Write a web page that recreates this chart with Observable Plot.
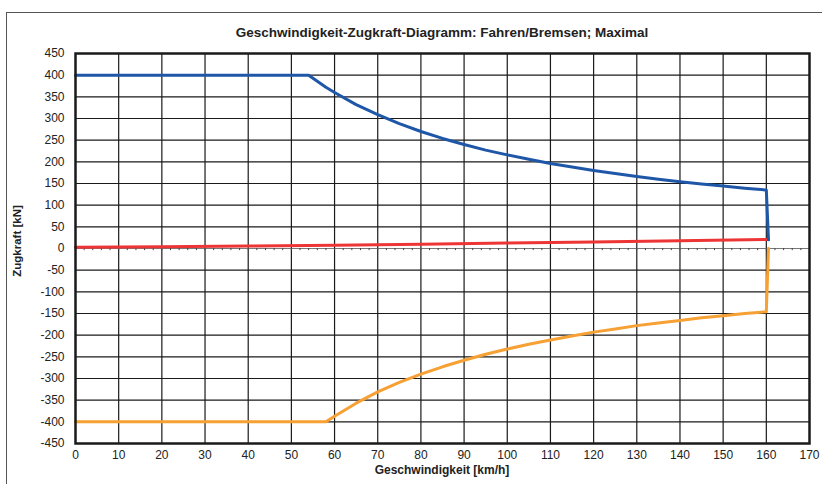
<!DOCTYPE html>
<html><head><meta charset="utf-8">
<script src="https://cdn.jsdelivr.net/npm/d3@7"></script>
<script src="https://cdn.jsdelivr.net/npm/@observablehq/plot@0.6"></script>
<style>
body{margin:0;background:#fff;overflow:hidden;width:822px;height:484px;position:relative;font-family:"Liberation Sans",Arial,sans-serif;color:#222}
#frame{position:absolute;left:6px;top:12px;width:840px;height:520px;border:1.5px solid #555;box-sizing:border-box}
#chart{position:absolute;left:0;top:0}
#title{position:absolute;left:75px;width:734px;top:25px;text-align:center;font-weight:bold;font-size:13.5px}
#ylab{position:absolute;left:17px;top:241px;transform:translate(-50%,-50%) rotate(-90deg);white-space:nowrap;font-weight:bold;font-size:11.5px}
#xlab{position:absolute;left:75px;width:734px;top:463px;text-align:center;font-weight:bold;font-size:12px}
</style></head>
<body>
<div id="frame"></div>
<div id="chart"></div>
<div id="title">Geschwindigkeit-Zugkraft-Diagramm: Fahren/Bremsen; Maximal</div>
<div id="ylab">Zugkraft [kN]</div>
<div id="xlab">Geschwindigkeit [km/h]</div>
<script>
// Fahren (Zugkraft, blau)
const speedDrive = [0, 54, 56, 58, 60, 65, 70, 75, 80, 85, 90, 95, 100, 105, 110, 115, 120, 125, 130, 135, 140, 145, 150, 155, 160, 160.5];
const forceDrive = [400, 400, 386, 372, 360, 332, 309, 288, 270, 254, 240, 227, 216, 206, 196, 188, 180, 173, 166, 160, 154, 149, 144, 139, 135, 20];
// Bremsen (orange)
const speedBrake = [0, 58, 60, 65, 70, 75, 80, 85, 90, 95, 100, 105, 110, 115, 120, 125, 130, 135, 140, 145, 150, 155, 160, 160.5];
const forceBrake = [-400, -400, -387, -357, -331, -309, -290, -273, -258, -244, -232, -221, -211, -202, -193, -186, -178, -172, -166, -160, -155, -150, -146, 0];
// Widerstand (rot)
const speedRes = [0, 20, 40, 60, 80, 100, 120, 140, 160, 160.5];
const forceRes = [3, 4, 5.5, 7.5, 10, 12.5, 15, 18, 21, 21];

const xTicks = [0, 10, 20, 30, 40, 50, 60, 70, 80, 90, 100, 110, 120, 130, 140, 150, 160, 170];
const yTicks = [-450, -400, -350, -300, -250, -200, -150, -100, -50, 0, 50, 100, 150, 200, 250, 300, 350, 400, 450];
const minorTicks = [0,2,4,6,8,10,12,14,16,18,20,22,24,26,28,30,32,34,36,38,40,42,44,46,48,50,52,54,56,58,60,62,64,66,68,70,72,74,76,78,80,82,84,86,88,90,92,94,96,98,100,102,104,106,108,110,112,114,116,118,120,122,124,126,128,130,132,134,136,138,140,142,144,146,148,150,152,154,156,158,160,162,164,166,168,170];

const zip = (xs, ys) => xs.map((x, i) => ({x, y: ys[i]}));
const drive = zip(speedDrive, forceDrive);
const brake = zip(speedBrake, forceBrake);
const res = zip(speedRes, forceRes);

const chart = Plot.plot({
  width: 822, height: 484,
  marginLeft: 75, marginRight: 13, marginTop: 53, marginBottom: 41,
  style: {fontFamily: '"Liberation Sans", Arial, sans-serif', fontSize: "12px", color: "#222", background: "transparent"},
  x: {domain: [0, 170]},
  y: {domain: [-450, 450]},
  marks: [
    Plot.ruleX(xTicks.filter(d => d > 0 && d < 170), {stroke: "#1a1a1a", strokeWidth: 1.2}),
    Plot.ruleY(yTicks.filter(d => d !== 0 && Math.abs(d) < 450), {stroke: "#1a1a1a", strokeWidth: 1.2}),
    Plot.ruleY([0], {stroke: "#777", strokeWidth: 1}),
    Plot.ruleX(minorTicks, {x: d => d, y1: 0, y2: -5, stroke: "#444", strokeWidth: 1}),
    Plot.axisX(xTicks, {tickSize: 0, tickPadding: 7, label: null, tickFormat: d => String(d)}),
    Plot.axisY(yTicks, {tickSize: 0, tickPadding: 11, label: null, tickFormat: d => String(d)}),
    Plot.line(res, {x: "x", y: "y", stroke: "#ee3535", strokeWidth: 3}),
    Plot.line(brake, {x: "x", y: "y", stroke: "#f7a033", strokeWidth: 3}),
    Plot.line(drive, {x: "x", y: "y", stroke: "#1f57a8", strokeWidth: 3}),
    Plot.frame({stroke: "#1a1a1a", strokeWidth: 2.5})
  ]
});
document.getElementById("chart").appendChild(chart);
</script>
</body></html>
